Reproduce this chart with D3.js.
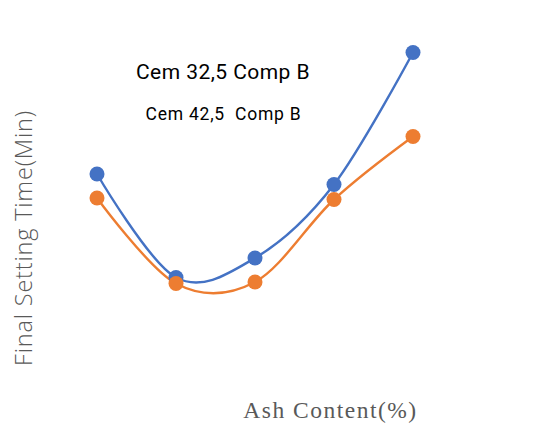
<!DOCTYPE html>
<html><head><meta charset="utf-8">
<script src="https://cdn.jsdelivr.net/npm/d3@7/dist/d3.min.js"></script>
<style>body{margin:0;background:#fff}svg{display:block}</style>
</head><body>
<script>
const categories = ["0", "5", "10", "15", "20"];
const seriesNames = ["Cem 32,5 Comp B", "Cem 42,5  Comp B"];
const blueValues = [164, 95, 108, 157, 245];
const orangeValues = [148, 91, 92, 147, 189];
const colors = ["#4472C4", "#ED7D31"];

const W = 539, H = 423;
const svg = d3.select("body").append("svg").attr("width", W).attr("height", H);
svg.append("rect").attr("width", W).attr("height", H).attr("fill", "#fff");

const x = d3.scalePoint().domain(categories).range([97, 413]);
const y = d3.scaleLinear().domain([0, 280]).range([420, 0]);

const series = [blueValues, orangeValues];
const line = d3.line()
  .x((d, i) => x(categories[i]))
  .y(d => y(d))
  .curve(d3.curveCardinal.tension(0));

[0, 1].forEach(s => {
  svg.append("path").datum(series[s])
    .attr("d", line).attr("fill", "none")
    .attr("stroke", colors[s]).attr("stroke-width", 2.4);
});
[0, 1].forEach(s => {
  svg.selectAll(null).data(series[s]).enter().append("circle")
    .attr("cx", (d, i) => x(categories[i]))
    .attr("cy", d => y(d))
    .attr("r", 7.5)
    .attr("fill", colors[s]);
});

// legend-like labels
svg.append("text").attr("x", 223).attr("y", 79).attr("text-anchor", "middle")
  .attr("font-family", "Roboto, sans-serif").attr("font-size", 21)
  .attr("letter-spacing", 0.45).attr("fill", "#000")
  .text(seriesNames[0]);
svg.append("text").attr("x", 223.5).attr("y", 120).attr("text-anchor", "middle")
  .attr("font-family", "Roboto, sans-serif").attr("font-size", 17.5)
  .attr("letter-spacing", 0.75).attr("fill", "#000")
  .style("white-space", "pre")
  .text(seriesNames[1]);

// axis titles
svg.append("text").attr("transform", "translate(32,238) rotate(-90)")
  .attr("text-anchor", "middle")
  .attr("font-family", "'Open Sans', sans-serif").attr("font-weight", 300)
  .attr("font-size", 23.5).attr("letter-spacing", 0.8).attr("fill", "#595959")
  .text("Final Setting Time(Min)");
svg.append("text").attr("x", 330.5).attr("y", 418).attr("text-anchor", "middle")
  .attr("font-family", "'Liberation Serif', serif")
  .attr("font-size", 23.5).attr("letter-spacing", 1.5).attr("fill", "#595959")
  .text("Ash Content(%)");
</script>
</body></html>
